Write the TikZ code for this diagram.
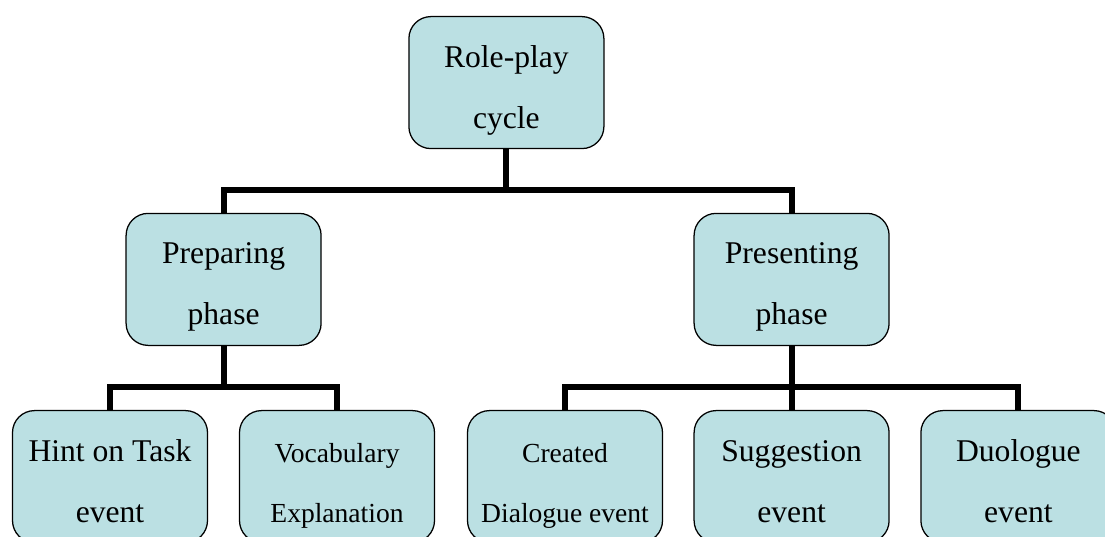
\documentclass[tikz,border=0pt]{standalone}
\usepackage{fontspec}
\setmainfont{Liberation Serif}
\usepackage{tikz}
\usetikzlibrary{calc}
\usetikzlibrary{positioning}
\definecolor{boxfill}{RGB}{187,224,227}
\tikzset{
  phasebox/.style={draw=black,line width=0.9pt,fill=boxfill,rounded corners=0.55cm,
    minimum width=4.875cm,minimum height=3.3cm,inner sep=0pt,align=center,
    text height=2.475cm,text depth=0.2cm,font=\fontsize{22.5}{43.4}\selectfont},
  smallbox/.style={phasebox,font=\fontsize{19.6}{42.5}\selectfont},
  bar/.style={line width=4.3pt}
}
\begin{document}
\begin{tikzpicture}
\useasboundingbox (0,0) rectangle (27.625,13.425);
% top of the tree
\node[phasebox] (cycle) at (12.66,11.36) {Role-play\\cycle};
\node[phasebox] (prep) at (5.59,6.44) {Preparing\\phase};
\node[phasebox] (pres) at (19.79,6.44) {Presenting\\phase};
% events
\node[phasebox] (hint) at (2.75,1.51) {Hint on Task\\event};
\node[smallbox] (vocab) at (8.425,1.51) {Vocabulary\\Explanation};
\node[smallbox] (created) at (14.125,1.51) {Created\\Dialogue event};
\node[phasebox] (sugg) at (19.79,1.51) {Suggestion\\event};
\node[phasebox] (duo) at (25.46,1.51) {Duologue\\event};
% levels of the horizontal bars
\coordinate (topbar) at (0,8.675);
\coordinate (lowbar) at (0,3.74);
% connectors
\foreach \n in {prep,pres}{
    \draw[bar] (cycle.south) -- (cycle.south |- topbar) -| (\n.north);
}
\foreach \n in {hint,vocab}{
    \draw[bar] (prep.south) -- (prep.south |- lowbar) -| (\n.north);
}
\foreach \n in {created,sugg,duo}{
    \draw[bar] (pres.south) -- (pres.south |- lowbar) -| (\n.north);
}
\end{tikzpicture}
\end{document}
